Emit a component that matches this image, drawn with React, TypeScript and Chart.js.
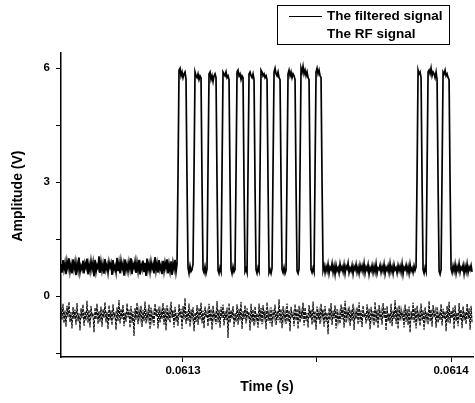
import React, { useEffect, useRef } from 'react';
import { Chart, registerables } from 'chart.js';

Chart.register(...registerables);

const SERIES_NAMES = ['The filtered signal', 'The RF signal'];
const X_LABEL = 'Time (s)';
const Y_LABEL = 'Amplitude (V)';

const X_MIN = 0.0612545;
const X_MAX = 0.0614082;
const Y_MIN = -1.6;
const Y_MAX = 6.4;

const X_TICKS = [0.0613, 0.06135, 0.0614];
const X_TICK_LABELS = ['0.0613', '', '0.0614'];
const Y_TICKS = [-1.5, 0, 1.5, 3, 4.5, 6];
const Y_TICK_LABELS = ['', '0', '', '3', '', '6'];

// oscilloscope sampling grid
const T_START = 0.0612545;
const T_STEP = 3.7313e-7;

const FILTERED = [
  // baseline before the burst
  0.85,0.62,0.95,0.7,0.88,0.58,0.92,0.74,1.0,0.65,0.83,0.6,0.97,0.72,0.9,0.55,0.86,0.68,1.02,0.63,
  0.8,0.7,0.94,0.6,0.87,0.75,0.99,0.57,0.84,0.66,0.93,0.71,0.89,0.52,0.96,0.64,0.82,0.73,1.05,0.61,
  0.9,0.67,0.85,0.59,0.98,0.7,0.83,0.62,0.91,0.76,0.87,0.56,0.95,0.69,0.8,0.63,1.01,0.66,0.88,0.6,
  0.93,0.72,0.86,0.54,0.97,0.68,0.84,0.65,0.9,0.71,1.0,0.58,0.85,0.74,0.92,0.61,0.89,0.66,0.96,0.57,
  0.83,0.7,0.94,0.63,0.88,0.53,0.99,0.69,0.86,0.64,0.91,0.72,0.84,0.6,1.03,0.67,0.87,0.62,0.95,0.7,
  0.82,0.58,0.93,0.66,0.89,0.73,0.97,0.6,0.85,0.65,0.92,0.56,0.88,0.71,0.96,0.63,0.84,
  // burst of 11 pulses
  3.2, 5.95,6.0,5.8,5.9,5.75,5.85,5.9,5.7, 3.0, 0.75,0.6,0.8,0.65,0.7,0.85,
  3.3, 5.9,5.8,5.75,5.85,5.7,5.8,5.75, 3.0, 0.7,0.62,0.78,0.6,0.72,
  3.4, 5.85,5.9,5.7,5.8,5.65,5.8,5.85,5.75, 3.0, 0.68,0.6,0.75,0.65,
  3.3, 5.9,5.85,5.8,5.9,5.75,5.8,5.7, 3.0, 0.72,0.6,0.78,0.64,0.7,
  3.2, 5.9,5.95,5.8,5.85,5.7,5.8,5.75, 2.9, 0.65,0.72,0.62,
  3.3, 5.85,5.9,5.8,5.75,5.85,5.7, 2.9, 0.7,0.6,0.75,0.66,
  3.3, 5.95,5.9,5.8,5.85,5.75,5.8,5.7, 3.0, 0.62,0.7,0.6,0.74,
  3.4, 5.9,6.0,5.85,5.8,5.9,5.75,5.7, 3.0, 0.7,0.62,0.76,0.6,0.68,
  3.3, 5.85,5.95,5.8,5.9,5.75,5.85,5.8,5.7, 2.9, 0.66,0.6,0.72,
  3.4, 6.0,5.9,6.05,5.85,5.95,5.8,5.9,5.75,5.7, 3.0, 0.7,0.62,0.74,0.64,
  3.3, 5.9,6.0,5.85,5.95,5.8,5.75, 3.0,
  // baseline between bursts
  0.68,0.8,0.62,0.78,0.66,0.84,0.6,0.76,0.7,0.86,0.63,0.79,0.58,0.82,0.67,0.75,0.61,0.85,0.69,0.77,
  0.64,0.83,0.6,0.79,0.72,0.87,0.62,0.74,0.66,0.81,0.59,0.78,0.7,0.84,0.63,0.76,0.6,0.82,0.68,0.8,
  0.65,0.86,0.61,0.77,0.69,0.83,0.58,0.75,0.67,0.81,0.62,0.79,0.64,0.85,0.6,0.74,0.7,0.82,0.63,0.78,
  0.66,0.84,0.59,0.76,0.68,0.8,0.62,0.86,0.65,0.77,0.6,0.83,0.69,0.75,0.61,0.81,0.67,0.79,0.63,0.85,
  0.58,0.76,0.7,0.82,0.64,0.78,0.6,0.84,0.66,0.74,0.62,0.8,0.68,0.77,
  // second burst of 3 pulses
  3.2, 5.95,5.85,5.9,5.75, 3.0, 0.7,0.6,0.75,0.65,
  3.3, 5.9,5.95,5.85,6.0,5.8,5.9,5.85,5.75,5.9,5.7, 3.0, 0.66,0.58,0.7,
  3.3, 5.9,5.85,5.95,5.8,5.85,5.75,5.7, 3.0,
  0.72,0.62,0.8,0.66,0.84,0.6,0.78,0.68,0.86,0.63,0.76,0.7,0.82,0.59,0.79,0.65,0.85,0.62,0.77,0.69,0.81,0.64,
];

const RF = [
  -0.3,-0.62,-0.2,-0.71,-0.38,-0.8,-0.25,-0.55,-0.15,-0.68,-0.42,-0.85,-0.28,-0.6,-0.35,-0.75,-0.18,-0.66,-0.45,-0.9,
  -0.32,-0.58,-0.22,-0.78,-0.4,-0.64,-0.12,-0.7,-0.36,-0.82,-0.26,-0.52,-0.44,-0.95,-0.3,-0.61,-0.2,-0.73,-0.39,-0.67,
  -0.27,-0.8,-0.34,-0.57,-0.16,-0.69,-0.41,-0.86,-0.24,-0.63,-0.37,-0.76,-0.21,-0.54,-0.46,-0.88,-0.29,-0.65,-0.1,-0.72,
  -0.33,-0.6,-0.23,-0.79,-0.43,-0.68,-0.19,-0.56,-0.35,-0.83,-0.26,-0.7,-0.4,-1.05,-0.31,-0.62,-0.17,-0.74,-0.38,-0.58,
  -0.25,-0.81,-0.36,-0.66,-0.14,-0.72,-0.42,-0.59,-0.22,-0.87,-0.3,-0.64,-0.45,-0.77,-0.2,-0.53,-0.34,-0.85,-0.27,-0.69,
  -0.39,-0.6,-0.18,-0.75,-0.32,-0.9,-0.24,-0.63,-0.41,-0.7,-0.15,-0.57,-0.37,-0.82,-0.28,-0.67,-0.44,-0.78,-0.21,-0.55,
  -0.33,-0.86,-0.26,-0.61,-0.05,-0.73,-0.4,-0.65,-0.19,-0.8,-0.35,-0.58,-0.29,-0.92,-0.43,-0.68,-0.23,-0.76,-0.31,-0.62,
  -0.17,-0.71,-0.38,-0.84,-0.27,-0.56,-0.42,-0.79,-0.2,-0.66,-0.34,-0.88,-0.25,-0.6,-0.46,-0.74,-0.13,-0.69,-0.36,-0.83,
  -0.28,-0.57,-0.22,-0.77,-0.4,-0.63,-0.3,-1.1,-0.18,-0.7,-0.37,-0.59,-0.26,-0.81,-0.44,-0.67,-0.21,-0.75,-0.33,-0.64,
  -0.15,-0.86,-0.39,-0.6,-0.24,-0.72,-0.32,-0.55,-0.41,-0.9,-0.2,-0.68,-0.35,-0.78,-0.27,-0.62,-0.45,-0.83,-0.19,-0.66,
  -0.31,-0.74,-0.23,-0.58,-0.38,-0.87,-0.16,-0.65,-0.43,-0.71,-0.29,-0.8,-0.36,-0.56,-0.22,-0.76,-0.4,-0.63,-0.08,-0.7,
  -0.34,-0.84,-0.26,-0.61,-0.42,-0.73,-0.19,-0.67,-0.37,-0.92,-0.28,-0.57,-0.45,-0.79,-0.21,-0.64,-0.33,-0.86,-0.25,-0.69,
  -0.4,-0.6,-0.17,-0.77,-0.3,-0.66,-0.44,-0.82,-0.23,-0.58,-0.36,-0.75,-0.14,-0.7,-0.39,-0.88,-0.27,-0.62,-0.41,-0.73,
  -0.2,-0.55,-0.35,-0.8,-0.26,-0.68,-0.43,-1.0,-0.31,-0.63,-0.18,-0.76,-0.38,-0.59,-0.24,-0.85,-0.34,-0.67,-0.46,-0.72,
  -0.22,-0.61,-0.29,-0.83,-0.12,-0.7,-0.4,-0.57,-0.27,-0.78,-0.36,-0.65,-0.2,-0.89,-0.42,-0.6,-0.3,-0.74,-0.16,-0.68,
  -0.37,-0.81,-0.25,-0.56,-0.44,-0.72,-0.21,-0.64,-0.33,-0.87,-0.28,-0.6,-0.39,-0.77,-0.15,-0.69,-0.35,-0.84,-0.23,-0.62,
  -0.41,-0.75,-0.18,-0.58,-0.32,-0.9,-0.26,-0.66,-0.45,-0.71,-0.2,-0.79,-0.38,-0.6,-0.1,-0.73,-0.3,-0.86,-0.24,-0.64,
  -0.36,-0.57,-0.43,-0.82,-0.22,-0.68,-0.34,-0.76,-0.27,-0.95,-0.4,-0.62,-0.17,-0.7,-0.31,-0.85,-0.25,-0.59,-0.44,-0.78,
  -0.19,-0.65,-0.37,-0.88,-0.29,-0.61,-0.42,-0.74,-0.13,-0.67,-0.35,-0.8,-0.23,-0.56,-0.39,-0.83,-0.28,-0.7,-0.46,-0.63,
  -0.21,-0.77,-0.33,-0.6,-0.4,-0.92,-0.26,-0.69,-0.15,-0.72,-0.38,-0.58,-0.3,-0.86,-0.24,-0.66,-0.43,-0.79,-0.18,-0.62,
  -0.35,-0.84,-0.27,-0.64,-0.41,-0.73,-0.2,-0.6,-0.32,-0.88,-0.25,-0.7,
];

const FONT_FAMILY = '"Liberation Sans", Arial, Helvetica, sans-serif';

const overlayPlugin = {
  id: 'overlay',
  afterDraw(chart: any) {
    const ctx = chart.ctx as CanvasRenderingContext2D;
    ctx.save();
    // legend box
    ctx.strokeStyle = '#000';
    ctx.lineWidth = 1;
    ctx.strokeRect(277.5, 5.5, 172, 39);
    ctx.beginPath();
    ctx.moveTo(289, 16.5);
    ctx.lineTo(322, 16.5);
    ctx.stroke();
    ctx.fillStyle = '#000';
    ctx.font = `bold 13.5px ${FONT_FAMILY}`;
    ctx.textAlign = 'left';
    ctx.textBaseline = 'middle';
    ctx.fillText(chart.data.datasets[0].label, 327, 16);
    ctx.fillText(chart.data.datasets[1].label, 327, 34);
    // y axis title
    ctx.translate(18, 196);
    ctx.rotate(-Math.PI / 2);
    ctx.textAlign = 'center';
    ctx.font = `bold 14px ${FONT_FAMILY}`;
    ctx.fillText(Y_LABEL, 0, 0);
    ctx.restore();
  },
};

export default function App() {
  const canvasRef = useRef<HTMLCanvasElement | null>(null);

  useEffect(() => {
    if (!canvasRef.current) return;
    const filteredData = FILTERED.map((v, i) => ({ x: T_START + i * T_STEP, y: v }));
    const rfData = RF.map((v, i) => ({ x: T_START + i * T_STEP, y: v }));

    const chart = new Chart(canvasRef.current, {
      type: 'line',
      data: {
        datasets: [
          {
            label: SERIES_NAMES[0],
            data: filteredData,
            borderColor: '#000',
            borderWidth: 1.7,
            pointRadius: 0,
            tension: 0,
            fill: false,
          },
          {
            label: SERIES_NAMES[1],
            data: rfData,
            borderColor: '#111',
            borderWidth: 1.2,
            borderDash: [3, 1],
            pointRadius: 0,
            tension: 0,
            fill: false,
          },
        ],
      },
      options: {
        responsive: false,
        animation: false,
        layout: { padding: { top: 53, right: 2, left: 0, bottom: 0 } },
        plugins: {
          legend: { display: false },
          tooltip: { enabled: false },
        },
        scales: {
          x: {
            type: 'linear',
            min: X_MIN,
            max: X_MAX,
            afterFit: (s: any) => { s.height = 46; },
            afterBuildTicks: (s: any) => { s.ticks = X_TICKS.map((v) => ({ value: v })); },
            ticks: {
              callback: (_v: any, i: number) => X_TICK_LABELS[i],
              color: '#000',
              padding: 2,
              maxRotation: 0,
              autoSkip: false,
              font: { family: FONT_FAMILY, size: 11.5, weight: 'bold' },
            },
            grid: { drawOnChartArea: false, drawTicks: true, tickLength: 5, color: '#000', lineWidth: 1 },
            border: { display: true, color: '#000', width: 1.5 },
            title: {
              display: true,
              text: X_LABEL,
              color: '#000',
              padding: { top: 0, bottom: 7 },
              font: { family: FONT_FAMILY, size: 14, weight: 'bold' },
            },
          },
          y: {
            type: 'linear',
            min: Y_MIN,
            max: Y_MAX,
            afterFit: (s: any) => { s.width = 61; },
            afterBuildTicks: (s: any) => { s.ticks = Y_TICKS.map((v) => ({ value: v })); },
            ticks: {
              callback: (_v: any, i: number) => Y_TICK_LABELS[i],
              color: '#000',
              padding: 6,
              autoSkip: false,
              font: { family: FONT_FAMILY, size: 11.5, weight: 'bold' },
            },
            grid: { drawOnChartArea: false, drawTicks: true, tickLength: 5, color: '#000', lineWidth: 1 },
            border: { display: true, color: '#000', width: 1.5 },
            title: { display: false },
          },
        },
      },
      plugins: [overlayPlugin],
    });

    return () => chart.destroy();
  }, []);

  return (
    <div style={{ position: 'absolute', left: 0, top: 0, width: 475, height: 403, background: '#fff' }}>
      <canvas ref={canvasRef} width={475} height={403} style={{ display: 'block' }} />
    </div>
  );
}
